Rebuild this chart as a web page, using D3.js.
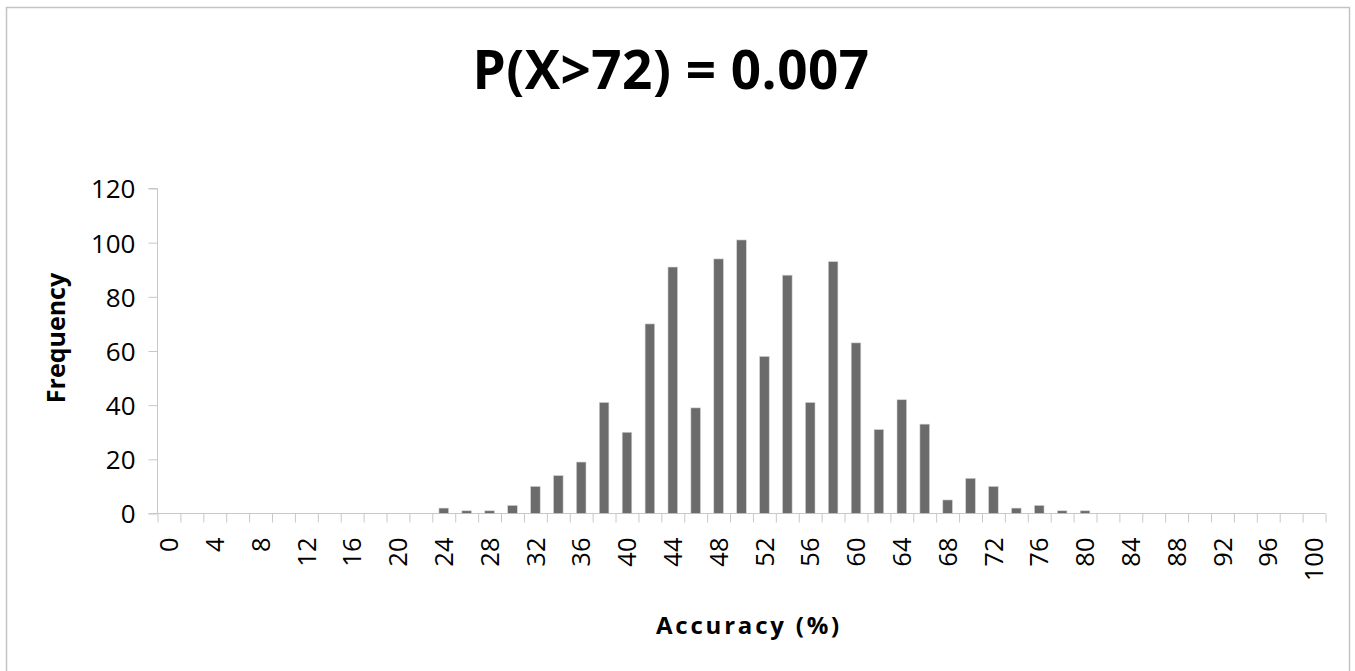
<!DOCTYPE html>
<html>
<head>
<meta charset="utf-8">
<script src="https://cdn.jsdelivr.net/npm/d3@7"></script>
<style>
  body { margin: 0; background: #fff; }
  text { font-family: "Open Sans", sans-serif; fill: #000; }
</style>
</head>
<body>
<div id="chart"></div>
<script>
// Accuracy bins (%) and how many runs fell in each
const accuracy = [0, 2, 4, 6, 8, 10, 12, 14, 16, 18, 20, 22, 24, 26, 28, 30, 32, 34, 36, 38, 40,
                  42, 44, 46, 48, 50, 52, 54, 56, 58, 60, 62, 64, 66, 68, 70, 72, 74, 76, 78, 80,
                  82, 84, 86, 88, 90, 92, 94, 96, 98, 100];
const frequency = [0, 0, 0, 0, 0, 0, 0, 0, 0, 0, 0, 0, 2, 1, 1, 3, 10, 14, 19, 41, 30,
                   70, 91, 39, 94, 101, 58, 88, 41, 93, 63, 31, 42, 33, 5, 13, 10, 2, 3, 1, 1,
                   0, 0, 0, 0, 0, 0, 0, 0, 0, 0];
const labelledBins = [0, 4, 8, 12, 16, 20, 24, 28, 32, 36, 40, 44, 48, 52, 56, 60, 64, 68, 72, 76, 80, 84, 88, 92, 96, 100];
const yTicks = [0, 20, 40, 60, 80, 100, 120];

const data = accuracy.map((a, i) => ({accuracy: a, frequency: frequency[i]}));

const W = 1355, H = 671;
const margin = {top: 188.5, right: 29.5, bottom: 157.5, left: 157.5};
const width = W - margin.left - margin.right,
      height = H - margin.top - margin.bottom;

const svg = d3.select("#chart").append("svg")
    .attr("width", W)
    .attr("height", H);

// chart frame
svg.append("rect")
    .attr("x", 6.5).attr("y", 7.5)
    .attr("width", 1343).attr("height", 700)
    .attr("fill", "none")
    .attr("stroke", "#c4c4c4")
    .attr("stroke-width", 1.5);

const g = svg.append("g")
    .attr("transform", `translate(${margin.left},${margin.top})`);

const x = d3.scaleBand()
    .domain(accuracy)
    .range([0, width])
    .paddingInner(0.58)
    .paddingOuter(0.29);

// category boundaries for tick marks
const xEdge = d3.scaleLinear()
    .domain([0, accuracy.length])
    .range([0, width]);

const y = d3.scaleLinear()
    .domain([0, 120])
    .range([height, 0]);

// Y axis
const yAxis = g.append("g")
    .call(d3.axisLeft(y).tickValues(yTicks).tickSize(9).tickPadding(13));
yAxis.selectAll("line").attr("stroke", "#c8c8c8");
yAxis.select(".domain").attr("stroke", "#c8c8c8").attr("d", `M-9,0H0V${height}H-9`);
yAxis.selectAll("text")
    .style("font-size", "26px")
    .attr("dy", "0.36em");

// X axis: tick marks between categories
const xTickAxis = g.append("g")
    .attr("transform", `translate(0,${height})`)
    .call(d3.axisBottom(xEdge).tickValues(d3.range(accuracy.length + 1)).tickSize(9).tickFormat(""));
xTickAxis.selectAll("line").attr("stroke", "#c8c8c8");
xTickAxis.select(".domain").attr("stroke", "#c8c8c8").attr("d", `M0,0H${width}`);

// X axis labels
const xLabelAxis = g.append("g")
    .attr("transform", `translate(0,${height})`)
    .call(d3.axisBottom(x).tickValues(labelledBins).tickSize(0));
xLabelAxis.select(".domain").remove();
xLabelAxis.selectAll("text")
    .style("font-size", "25.5px")
    .attr("text-anchor", "end")
    .attr("transform", "rotate(-90)")
    .attr("x", -24)
    .attr("y", 0)
    .attr("dy", "0.36em");

// Bars
g.selectAll(".bar")
  .data(data.filter(d => d.frequency > 0))
  .enter().append("rect")
    .attr("class", "bar")
    .attr("x", d => x(d.accuracy))
    .attr("y", d => y(d.frequency))
    .attr("width", x.bandwidth())
    .attr("height", d => height - y(d.frequency))
    .attr("fill", "#6b6b6b")
    .attr("stroke", "#d4d4d4")
    .attr("stroke-width", 0.6);

// Title
svg.append("text")
    .attr("x", 671)
    .attr("y", 89)
    .attr("text-anchor", "middle")
    .style("font-size", "53px")
    .style("font-weight", "bold")
    .style("letter-spacing", "0.5px")
    .text("P(X>72) = 0.007");

// X axis title
svg.append("text")
    .attr("x", 749)
    .attr("y", 634)
    .attr("text-anchor", "middle")
    .style("font-size", "24px")
    .style("font-weight", "bold")
    .style("letter-spacing", "2.8px")
    .text("Accuracy (%)");

// Y axis title
svg.append("text")
    .attr("transform", "translate(65,338) rotate(-90)")
    .attr("text-anchor", "middle")
    .style("font-size", "25px")
    .style("font-weight", "bold")
    .text("Frequency");
</script>
</body>
</html>
